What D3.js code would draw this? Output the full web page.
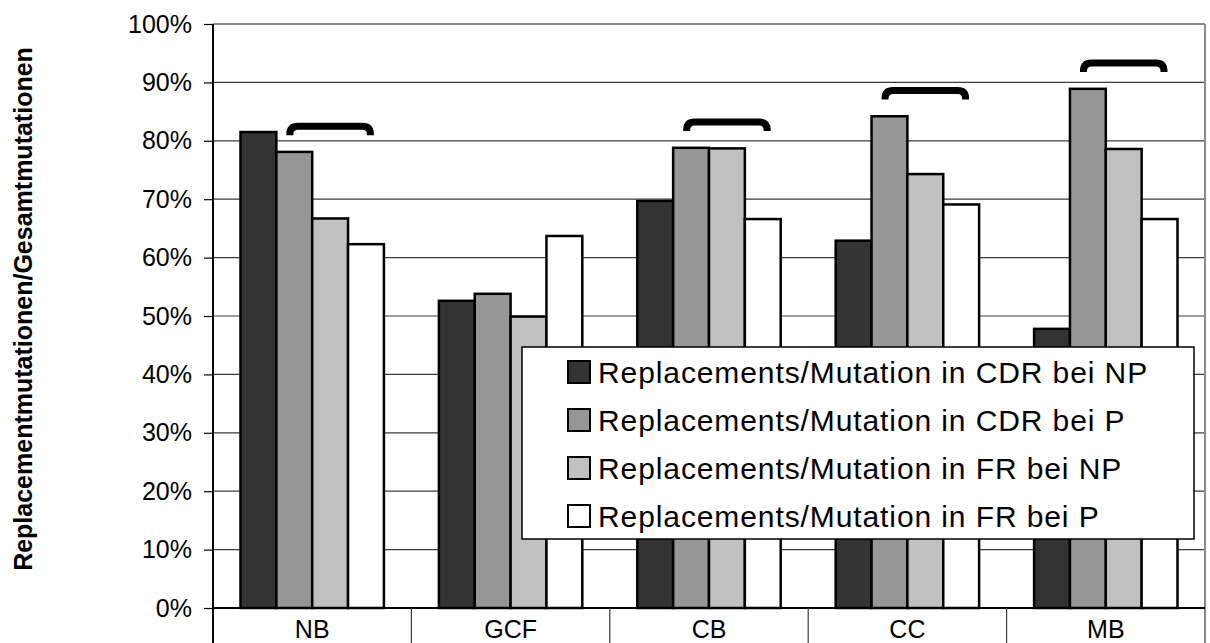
<!DOCTYPE html>
<html>
<head>
<meta charset="utf-8">
<script src="https://cdn.jsdelivr.net/npm/d3@7"></script>
<style>
  html, body { margin: 0; padding: 0; background: #fff; }
  svg { display: block; font-family: "Liberation Sans", Arial, sans-serif; }
</style>
</head>
<body>
<svg id="chart" width="1210" height="643"></svg>
<script>
// Categories (cell populations) and the four ratio series, in percent
const categories = ["NB", "GCF", "CB", "CC", "MB"];
const seriesNames = [
  "Replacements/Mutation in CDR bei NP",
  "Replacements/Mutation in CDR bei P",
  "Replacements/Mutation in FR bei NP",
  "Replacements/Mutation in FR bei P"
];
const cdrNP = [81.5, 52.6, 69.7, 62.9, 47.8];
const cdrP  = [78.1, 53.8, 78.8, 84.2, 88.9];
const frNP  = [66.7, 49.9, 78.7, 74.3, 78.6];
const frP   = [62.3, 63.7, 66.6, 69.1, 66.6];
const yTicks = [0, 10, 20, 30, 40, 50, 60, 70, 80, 90, 100];
// Groups marked with a bracket over the last three bars
const bracketGroups = ["NB", "CB", "CC", "MB"];

(function draw() {
  const seriesValues = [cdrNP, cdrP, frNP, frP];
  const fills = ["#333333", "#969696", "#c0c0c0", "#ffffff"];

  const svg = d3.select("#chart");
  const plotL = 213, plotR = 1205, plotT = 24, plotB = 608, H = 643;

  const x = d3.scaleBand().domain(categories).range([plotL, plotR]).padding(0);
  const inset = x.bandwidth() * 0.1386;
  const xs = d3.scaleBand().domain(d3.range(4)).range([inset, x.bandwidth() - inset]).padding(0);
  const y = d3.scaleLinear().domain([0, 100]).range([plotB, plotT]);

  // Horizontal gridlines
  svg.append("g")
    .selectAll("line")
    .data(yTicks.filter(t => t > 0 && t < 100))
    .join("line")
    .attr("x1", plotL).attr("x2", plotR)
    .attr("y1", d => y(d)).attr("y2", d => y(d))
    .attr("stroke", "#3c3c3c").attr("stroke-width", 1.2);

  // Plot border (top and right)
  svg.append("line").attr("x1", plotL).attr("x2", plotR).attr("y1", y(100)).attr("y2", y(100))
    .attr("stroke", "#8c8c8c").attr("stroke-width", 2);
  svg.append("line").attr("x1", plotR).attr("x2", plotR).attr("y1", y(100)).attr("y2", H)
    .attr("stroke", "#8c8c8c").attr("stroke-width", 2);

  // Bars
  const rows = categories.map((c, i) => ({ cat: c, vals: seriesValues.map(s => s[i]) }));
  const groups = svg.append("g").selectAll("g")
    .data(rows).join("g")
    .attr("transform", d => `translate(${x(d.cat)},0)`);
  groups.selectAll("rect")
    .data(d => d.vals.map((v, k) => ({ v, k })))
    .join("rect")
    .attr("x", d => xs(d.k))
    .attr("width", xs.bandwidth())
    .attr("y", d => y(d.v))
    .attr("height", d => y(0) - y(d.v))
    .attr("fill", d => fills[d.k])
    .attr("stroke", "#000")
    .attr("stroke-width", 2.5);

  // Brackets over bars 2-4
  const sw = 7;
  svg.append("g").selectAll("path")
    .data(rows.filter(r => bracketGroups.includes(r.cat)))
    .join("path")
    .attr("fill", "none")
    .attr("stroke", "#000")
    .attr("stroke-width", sw)
    .attr("d", d => {
      const x0 = x(d.cat) + xs(1) + 10 + sw / 2;
      const x1 = x(d.cat) + xs(3) + xs.bandwidth() - 10 - sw / 2;
      const yt = y(d3.max(d.vals.slice(1)) + 5) + sw / 2;
      const yb = yt + 9;
      const r = 8;
      return `M${x0},${yb} L${x0},${yt + r} Q${x0},${yt} ${x0 + r},${yt} L${x1 - r},${yt} Q${x1},${yt} ${x1},${yt + r} L${x1},${yb}`;
    });

  // Value axis
  const yAxis = svg.append("g")
    .attr("transform", `translate(${plotL},0)`)
    .call(d3.axisLeft(y).tickValues(yTicks).tickFormat(d => d + "%").tickSize(9).tickSizeOuter(0).tickPadding(12));
  yAxis.select(".domain").remove();
  yAxis.selectAll(".tick line").attr("stroke", "#000").attr("stroke-width", 1.2);
  yAxis.selectAll(".tick text").attr("font-size", 25).attr("fill", "#000")
    .attr("font-family", "'Liberation Sans', Arial, sans-serif");
  svg.append("line").attr("x1", plotL).attr("x2", plotL).attr("y1", y(100)).attr("y2", H)
    .attr("stroke", "#000").attr("stroke-width", 2);
  svg.append("line").attr("x1", plotL).attr("x2", plotR).attr("y1", y(0)).attr("y2", y(0))
    .attr("stroke", "#000").attr("stroke-width", 2);

  // Category axis with divider lines
  svg.append("g").selectAll("line")
    .data(categories.slice(1))
    .join("line")
    .attr("x1", d => x(d)).attr("x2", d => x(d))
    .attr("y1", y(0)).attr("y2", H)
    .attr("stroke", "#3c3c3c").attr("stroke-width", 1.2);
  const xAxis = svg.append("g")
    .attr("transform", `translate(0,${plotB})`)
    .call(d3.axisBottom(x).tickSize(0).tickPadding(12));
  xAxis.select(".domain").remove();
  xAxis.selectAll(".tick text").attr("font-size", 25).attr("fill", "#000")
    .attr("font-family", "'Liberation Sans', Arial, sans-serif");

  // Axis title
  svg.append("text")
    .attr("transform", "translate(23,309) rotate(-90)")
    .attr("text-anchor", "middle")
    .attr("dominant-baseline", "central")
    .attr("font-size", 25)
    .attr("font-weight", "bold")
    .text("Replacementmutationen/Gesamtmutationen");

  // Legend
  const lg = svg.append("g").attr("transform", "translate(522,347)");
  lg.append("rect").attr("width", 672).attr("height", 192)
    .attr("fill", "#fff").attr("stroke", "#000").attr("stroke-width", 1.5);
  const items = lg.selectAll("g.item").data(seriesNames).join("g")
    .attr("class", "item")
    .attr("transform", (d, i) => `translate(0,${i * 48})`);
  items.append("rect")
    .attr("x", 46).attr("y", 14).attr("width", 22).attr("height", 22)
    .attr("fill", (d, i) => fills[i]).attr("stroke", "#000").attr("stroke-width", 2);
  items.append("text")
    .attr("x", 76).attr("y", 36)
    .attr("font-size", 30)
    .attr("letter-spacing", 0.9)
    .text(d => d);
})();
</script>
</body>
</html>
